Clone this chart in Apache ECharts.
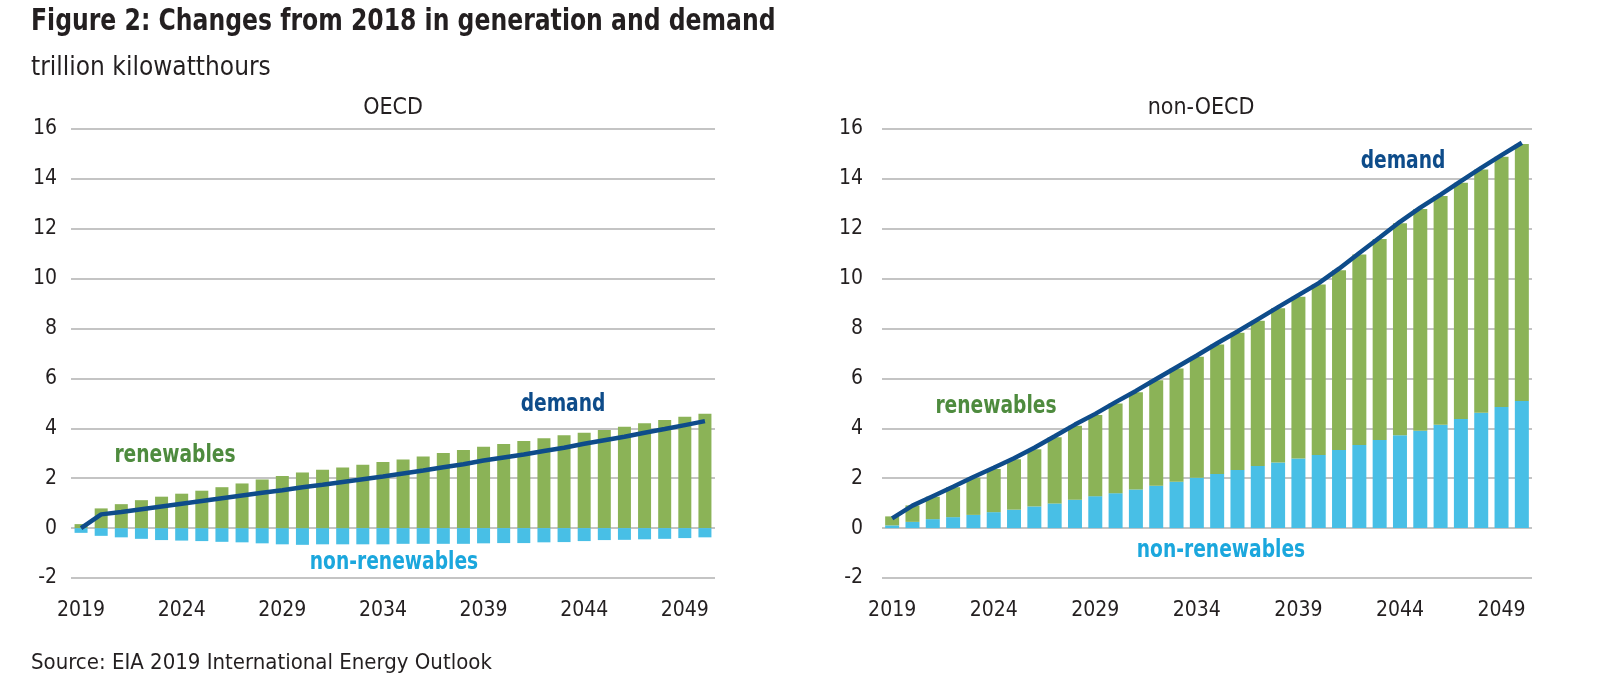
<!DOCTYPE html>
<html>
<head>
<meta charset="utf-8">
<script src="https://cdn.jsdelivr.net/npm/echarts@6/dist/echarts.min.js"></script>
<style>
html,body{margin:0;padding:0;background:#fff;}
#c{width:1600px;height:678px;}
</style>
</head>
<body>
<div id="c"></div>
<script>
const years = ['2019','2020','2021','2022','2023','2024','2025','2026','2027','2028','2029','2030','2031','2032','2033','2034','2035','2036','2037','2038','2039','2040','2041','2042','2043','2044','2045','2046','2047','2048','2049','2050'];

const oecdRenewables = [0.16,0.79,0.96,1.12,1.26,1.38,1.50,1.64,1.79,1.95,2.09,2.23,2.34,2.43,2.54,2.65,2.75,2.87,3.01,3.13,3.26,3.37,3.49,3.60,3.72,3.82,3.93,4.06,4.20,4.33,4.46,4.58];
const oecdNonRenewables = [-0.19,-0.31,-0.37,-0.43,-0.48,-0.50,-0.52,-0.55,-0.57,-0.61,-0.65,-0.67,-0.65,-0.65,-0.65,-0.65,-0.63,-0.63,-0.63,-0.63,-0.61,-0.60,-0.60,-0.57,-0.56,-0.52,-0.48,-0.47,-0.45,-0.43,-0.40,-0.37];
const oecdDemand = [0.00,0.55,0.65,0.76,0.87,0.98,1.09,1.20,1.31,1.42,1.52,1.64,1.74,1.85,1.96,2.07,2.19,2.31,2.44,2.56,2.71,2.83,2.95,3.09,3.22,3.38,3.52,3.66,3.82,3.97,4.13,4.29];

const nonOecdNonRenewables = [0.11,0.25,0.36,0.44,0.53,0.64,0.74,0.87,0.99,1.14,1.28,1.40,1.55,1.70,1.86,2.02,2.17,2.33,2.49,2.63,2.79,2.93,3.13,3.33,3.53,3.72,3.90,4.14,4.37,4.62,4.86,5.10];
const nonOecdRenewables = [0.36,0.66,0.90,1.20,1.49,1.73,2.02,2.29,2.65,2.96,3.25,3.60,3.90,4.23,4.54,4.85,5.19,5.50,5.82,6.18,6.49,6.84,7.21,7.64,8.06,8.50,8.89,9.17,9.48,9.76,10.03,10.30];
const nonOecdDemand = [0.39,0.90,1.28,1.66,2.05,2.42,2.80,3.22,3.68,4.15,4.58,5.05,5.50,5.98,6.45,6.92,7.41,7.88,8.37,8.86,9.34,9.82,10.40,11.03,11.65,12.28,12.85,13.37,13.91,14.44,14.95,15.45];

const yTicks = {min: -2, max: 16, interval: 2};

const FONT = "'DejaVu Sans Condensed','Liberation Sans Narrow',sans-serif";
const GREEN = '#8BB357', BLUE = '#48BFE6', NAVY = '#0E4C8A';
const GREEN_TXT = '#4E8B3E', BLUE_TXT = '#1BA7DD', GRID = '#B0B0B0', TXT = '#231F20';

function xAx(i){
  return {type:'category', gridIndex:i, data: years, boundaryGap:true,
    axisLine:{show:false}, axisTick:{show:false},
    axisLabel:{interval:4, margin:22, fontSize:21, color:TXT, fontFamily:FONT}};
}
function yAx(i, margin){
  return {type:'value', gridIndex:i, min:yTicks.min, max:yTicks.max, interval:yTicks.interval,
    axisLine:{show:false}, axisTick:{show:false},
    axisLabel:{margin:margin, fontSize:21, color:TXT, fontFamily:FONT},
    splitLine:{lineStyle:{color:GRID, width:1.5}}};
}
function note(text, x, y, color){
  return {type:'text', x:x, y:y, scaleX:0.83, z:10,
    style:{text:text, fill:color, font:'bold 25px '+FONT, align:'center', verticalAlign:'middle'}};
}

const chart = echarts.init(document.getElementById('c'), null, {renderer:'canvas'});
chart.setOption({
  animation:false,
  backgroundColor:'#fff',
  textStyle:{fontFamily:FONT},
  title:[
    {text:'trillion kilowatthours', left:26, top:50,
      textStyle:{fontSize:26, fontWeight:'normal', color:TXT, fontFamily:FONT}},
    {text:'OECD', left:388, top:92, textAlign:'center',
      textStyle:{fontSize:23, fontWeight:'normal', color:TXT, fontFamily:FONT}},
    {text:'non-OECD', left:1196, top:92, textAlign:'center',
      textStyle:{fontSize:23, fontWeight:'normal', color:TXT, fontFamily:FONT}},
    {text:'Source: EIA 2019 International Energy Outlook', left:26, top:647,
      textStyle:{fontSize:22, fontWeight:'normal', color:TXT, fontFamily:FONT}}
  ],
  grid:[
    {left:71, right:885, top:129, bottom:100},
    {left:882, right:68, top:129, bottom:100}
  ],
  xAxis:[xAx(0), xAx(1)],
  yAxis:[yAx(0,14), yAx(1,19)],
  series:[
    {name:'non-renewables', type:'bar', xAxisIndex:0, yAxisIndex:0, stack:'oecd', data:oecdNonRenewables, barWidth:13, itemStyle:{color:BLUE}},
    {name:'renewables', type:'bar', xAxisIndex:0, yAxisIndex:0, stack:'oecd', data:oecdRenewables, barWidth:13, itemStyle:{color:GREEN}},
    {name:'demand', type:'line', xAxisIndex:0, yAxisIndex:0, data:oecdDemand, symbol:'none', z:5, lineStyle:{color:NAVY, width:4.5}},
    {name:'non-renewables', type:'bar', xAxisIndex:1, yAxisIndex:1, stack:'non', data:nonOecdNonRenewables, barWidth:14, itemStyle:{color:BLUE}},
    {name:'renewables', type:'bar', xAxisIndex:1, yAxisIndex:1, stack:'non', data:nonOecdRenewables, barWidth:14, itemStyle:{color:GREEN}},
    {name:'demand', type:'line', xAxisIndex:1, yAxisIndex:1, data:nonOecdDemand, symbol:'none', z:5, lineStyle:{color:NAVY, width:4.5}}
  ],
  graphic:[
    {type:'text', x:31, y:22, scaleX:0.872, z:10,
      style:{text:'Figure 2: Changes from 2018 in generation and demand', fill:TXT, font:'bold 30px '+FONT, align:'left', verticalAlign:'middle'}},
    note('renewables', 175, 455, GREEN_TXT),
    note('non-renewables', 394, 562, BLUE_TXT),
    note('demand', 563, 404, NAVY),
    note('renewables', 996, 406, GREEN_TXT),
    note('non-renewables', 1221, 550, BLUE_TXT),
    note('demand', 1403, 161, NAVY)
  ]
});
</script>
</body>
</html>
